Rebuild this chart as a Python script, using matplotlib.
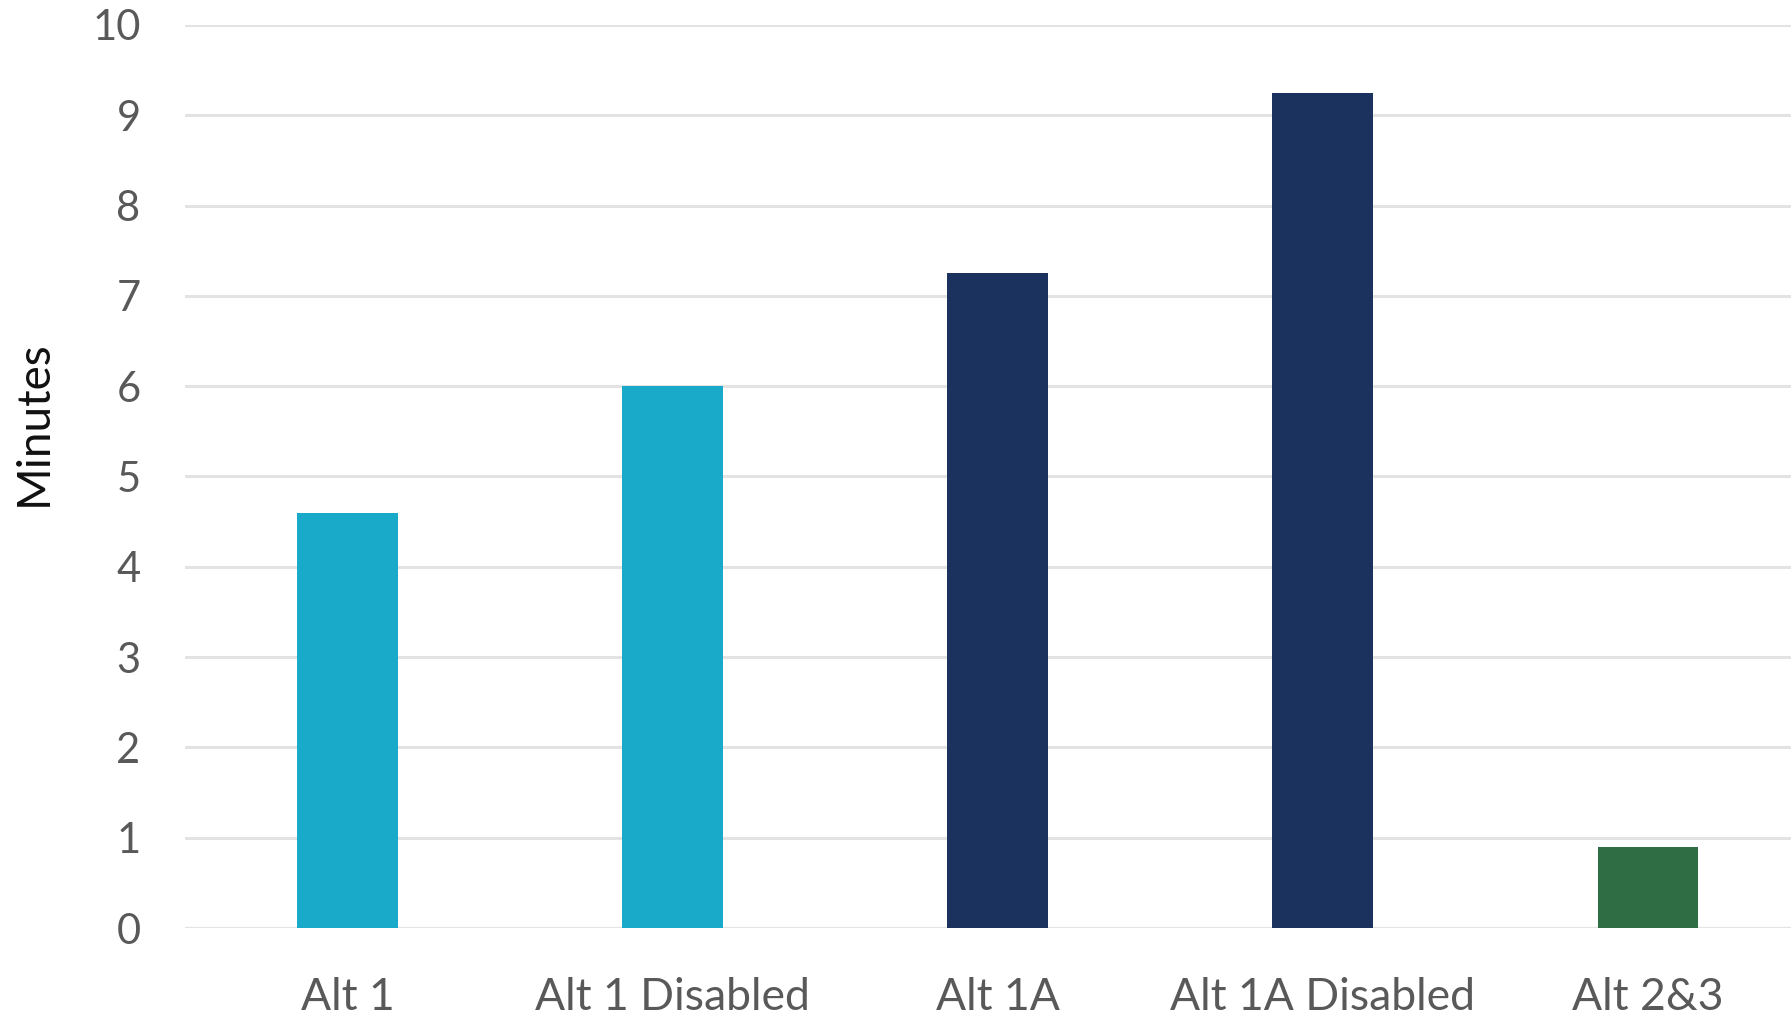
import matplotlib.pyplot as plt

categories = ['Alt 1', 'Alt 1 Disabled', 'Alt 1A', 'Alt 1A Disabled', 'Alt 2&3']
minutes = [4.6, 6.0, 7.25, 9.25, 0.9]
bar_colors = ['#19A9C9', '#19A9C9', '#1B315E', '#1B315E', '#2F6D45']
y_ticks = [0, 1, 2, 3, 4, 5, 6, 7, 8, 9, 10]

plt.rcParams['font.family'] = ['Lato', 'DejaVu Sans']

fig = plt.figure(figsize=(17.91, 10.17), dpi=100)
ax = fig.add_axes([185 / 1791, 1 - 928 / 1017, 1 - 185 / 1791, (928 - 25) / 1017])

x = list(range(len(categories)))
ax.bar(x, minutes, width=0.31, color=bar_colors, zorder=3)

ax.set_xlim(-0.5, 4.44)
ax.set_ylim(0, 10)
ax.set_yticks(y_ticks)
ax.set_xticks(x)
ax.set_xticklabels(categories)

ax.grid(axis='y', color='#E3E3E3', linewidth=2.2, zorder=0)
ax.axhline(0, color='#D9D9D9', linewidth=2.2, zorder=1)
for s in ax.spines.values():
    s.set_visible(False)
ax.tick_params(axis='both', length=0, labelsize=30, labelcolor='#595959')
ax.tick_params(axis='y', pad=32)
ax.tick_params(axis='x', pad=35, labelsize=32)

fig.text(34 / 1791, 1 - 423 / 1017, 'Minutes', rotation=90, fontsize=33,
         color='#111111', ha='center', va='center')

plt.savefig('out.png', dpi=100)
